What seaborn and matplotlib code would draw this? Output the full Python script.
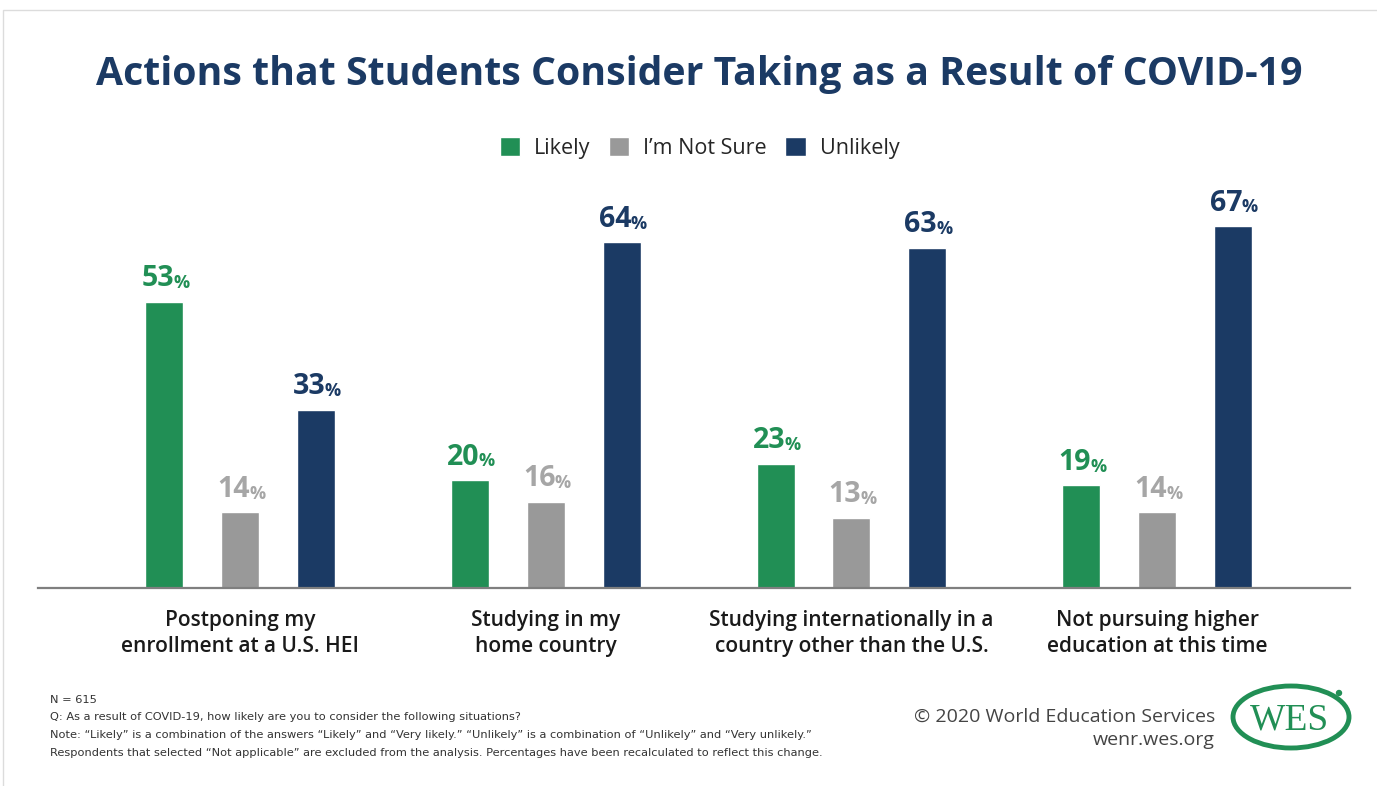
import seaborn as sns
import pandas as pd
import matplotlib.pyplot as plt
from matplotlib.patches import Ellipse, Rectangle

# data
actions = ["Postponing my\nenrollment at a U.S. HEI",
           "Studying in my\nhome country",
           "Studying internationally in a\ncountry other than the U.S.",
           "Not pursuing higher\neducation at this time"]
responses = ["Likely", "I\u2019m Not Sure", "Unlikely"]
likely = [53, 20, 23, 19]
not_sure = [14, 16, 13, 14]
unlikely = [33, 64, 63, 67]

bar_colors = ["#218f55", "#999999", "#1b3a64"]
label_colors = ["#218f55", "#a6a6a6", "#1b3a64"]
navy = "#1b3a64"

df = pd.DataFrame({
    "action": actions * 3,
    "response": [responses[0]] * 4 + [responses[1]] * 4 + [responses[2]] * 4,
    "pct": likely + not_sure + unlikely,
})

sns.set_theme(style="white")
plt.rcParams["font.family"] = ["Open Sans", "DejaVu Sans"]

fig = plt.figure(figsize=(13.77, 7.86), dpi=100)
ax = fig.add_axes([38 / 1377, 1 - 588 / 786, (1350 - 38) / 1377, (588 - 183) / 786])

sns.barplot(data=df, x="action", y="pct", hue="response", order=actions,
            hue_order=responses, palette=bar_colors, width=0.744, gap=0.5,
            saturation=1, ax=ax)

ax.set_ylim(0, 75)
ax.set_xlim(-0.661, 3.631)
ax.set_xlabel("")
ax.set_ylabel("")
ax.set_yticks([])
for s in ["top", "right", "left"]:
    ax.spines[s].set_visible(False)
ax.spines["bottom"].set_color("#7f7f7f")
ax.spines["bottom"].set_linewidth(1.6)
ax.tick_params(axis="x", length=0, pad=16)
for t in ax.get_xticklabels():
    t.set_fontsize(15)
    t.set_fontweight("semibold")
    t.set_color("#1a1a1a")
    t.set_linespacing(1.3)

# value labels: big number + small percent sign
for i, cont in enumerate(ax.containers):
    for bar in cont:
        h = bar.get_height()
        xc = bar.get_x() + bar.get_width() / 2
        ax.annotate(f"{h:.0f}", (xc, h), xytext=(7, 6), textcoords="offset points",
                    ha="right", va="bottom", fontsize=20.5, fontweight="bold",
                    color=label_colors[i])
        ax.annotate("%", (xc, h), xytext=(6.5, 7), textcoords="offset points",
                    ha="left", va="bottom", fontsize=13, fontweight="bold",
                    color=label_colors[i])

sns.move_legend(ax, "center", bbox_to_anchor=(0.508, 1 - 148 / 786),
                bbox_transform=fig.transFigure, ncol=3, frameon=False,
                title=None, fontsize=15.5, handlelength=0.95, handleheight=0.95,
                handletextpad=0.65, columnspacing=0.85)

fig.text(0.508, 1 - 75 / 786, "Actions that Students Consider Taking as a Result of COVID-19",
         ha="center", va="center", fontsize=28.3, fontweight="bold", color=navy)

notes = ["N = 615",
         "Q: As a result of COVID-19, how likely are you to consider the following situations?",
         "Note: \u201cLikely\u201d is a combination of the answers \u201cLikely\u201d and \u201cVery likely.\u201d \u201cUnlikely\u201d is a combination of \u201cUnlikely\u201d and \u201cVery unlikely.\u201d",
         "Respondents that selected \u201cNot applicable\u201d are excluded from the analysis. Percentages have been recalculated to reflect this change."]
for k, line in enumerate(notes):
    fig.text(50 / 1377, 1 - (700 + k * 17.5) / 786, line, ha="left", va="center",
             fontsize=8.2, color="#333333", family="DejaVu Sans")

fig.text(1215 / 1377, 1 - 717 / 786, "\u00a9 2020 World Education Services", ha="right",
         va="center", fontsize=14, color="#444444")
fig.text(1215 / 1377, 1 - 740 / 786, "wenr.wes.org", ha="right", va="center",
         fontsize=14, color="#444444")

# WES logo
logo_green = "#218f55"
fig.patches.append(Ellipse((1291 / 1377, 1 - 717 / 786), 116 / 1377, 62 / 786,
                           transform=fig.transFigure, fill=False,
                           edgecolor=logo_green, linewidth=3.5))
fig.patches.append(Ellipse((1339 / 1377, 1 - 693 / 786), 5 / 1377, 5 / 786,
                           transform=fig.transFigure, color=logo_green))
fig.text(1290 / 1377, 1 - 720 / 786, "WES", ha="center", va="center", fontsize=27,
         color=logo_green, family=["Liberation Serif", "DejaVu Serif"])

# thin frame
fig.patches.append(Rectangle((3 / 1377, -0.01), 1.0, 1 - 10 / 786 + 0.01,
                             transform=fig.transFigure, fill=False,
                             edgecolor="#dcdcdc", linewidth=1))

fig.savefig("out.png", dpi=100)
